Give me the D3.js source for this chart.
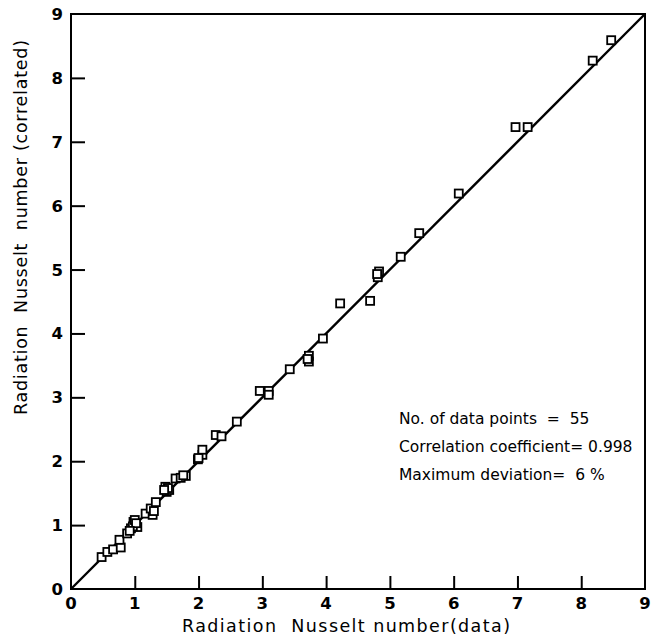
<!DOCTYPE html>
<html lang="en">
<head>
<meta charset="UTF-8" />
<title>Radiation Nusselt number</title>
<script src="https://d3js.org/d3.v7.min.js"></script>
<style>
  body { margin: 0; background: #fff; }
  svg { display: block; }
  text { fill: #000; font-family: 'DejaVu Sans', sans-serif; white-space: pre; }
  .tick-label { font-size: 16.5px; font-weight: bold; }
  .label { font-size: 17.5px; }
  .note { font-size: 15.5px; }
</style>
</head>
<body>
<svg width="658" height="641"></svg>
<script>
// data: Nu (data) vs Nu (correlated)
var nuData = [0.48,0.57,0.66,0.78,0.76,0.88,0.94,0.98,1.01,1.04,0.97,1.17,1.28,1.25,1.33,
  1.48,1.50,1.54,1.64,1.72,1.80,1.76,1.99,2.06,2.06,2.27,2.36,2.60,2.96,3.10,3.10,3.43,
  3.73,3.73,3.71,3.95,4.22,4.69,4.81,4.83,4.80,5.17,5.46,6.08,6.97,7.16,8.18,8.47,
  1.00,1.52,1.02,0.92,1.30,1.46,2.00];
var nuCorr = [0.50,0.58,0.62,0.65,0.77,0.87,0.95,1.05,1.00,0.97,0.98,1.18,1.16,1.26,1.36,
  1.60,1.52,1.55,1.73,1.74,1.77,1.78,2.03,2.10,2.18,2.41,2.39,2.62,3.10,3.10,3.04,3.44,
  3.65,3.56,3.60,3.92,4.47,4.51,4.88,4.97,4.93,5.20,5.57,6.19,7.23,7.23,8.27,8.59,
  1.08,1.58,1.03,0.91,1.22,1.55,2.05];
var xTicks = [0,1,2,3,4,5,6,7,8,9];
var yTicks = [0,1,2,3,4,5,6,7,8,9];
var notes = ['No. of data points  =  55', 'Correlation coefficient= 0.998', 'Maximum deviation=  6 %'];

const svg = d3.select('svg');
const plotLeft = 71, plotRight = 645, plotTop = 14, plotBottom = 589;

const x = d3.scaleLinear().domain([0, 9]).range([plotLeft, plotRight]);
const y = d3.scaleLinear().domain([0, 9]).range([plotBottom, plotTop]);

// frame
svg.append('rect')
  .attr('x', plotLeft).attr('y', plotTop)
  .attr('width', plotRight - plotLeft).attr('height', plotBottom - plotTop)
  .attr('fill', 'none').attr('stroke', '#000').attr('stroke-width', 2);

// inward ticks, bottom and left
const xAxis = svg.append('g')
  .attr('transform', `translate(0, ${plotBottom})`)
  .call(d3.axisTop(x).tickValues(xTicks.slice(1, -1)).tickSize(13).tickFormat(''));
const yAxis = svg.append('g')
  .attr('transform', `translate(${plotLeft}, 0)`)
  .call(d3.axisRight(y).tickValues(yTicks.slice(1, -1)).tickSize(14).tickFormat(''));
[xAxis, yAxis].forEach(function (a) {
  a.select('.domain').remove();
  a.selectAll('line').attr('stroke', '#000').attr('stroke-width', 2);
});

// tick labels
svg.selectAll('.xt').data(xTicks).enter().append('text')
  .attr('class', 'tick-label')
  .attr('x', d => x(d)).attr('y', plotBottom + 20)
  .attr('text-anchor', 'middle')
  .text(d => d);
svg.selectAll('.yt').data(yTicks).enter().append('text')
  .attr('class', 'tick-label')
  .attr('x', plotLeft - 8).attr('y', d => y(d) + 6)
  .attr('text-anchor', 'end')
  .text(d => d);

// parity line
svg.append('line')
  .attr('x1', x(0)).attr('y1', y(0))
  .attr('x2', x(9)).attr('y2', y(9))
  .attr('stroke', '#000').attr('stroke-width', 2.4);

// square markers
const s = 8;
svg.selectAll('.pt').data(nuData).enter().append('rect')
  .attr('x', (d, i) => x(d) - s / 2)
  .attr('y', (d, i) => y(nuCorr[i]) - s / 2)
  .attr('width', s).attr('height', s)
  .attr('fill', '#fff').attr('stroke', '#000').attr('stroke-width', 1.8);

// axis titles (stretched to the wide lettering of the original)
svg.append('text')
  .attr('class', 'label')
  .attr('x', 182).attr('y', 632)
  .attr('textLength', 328).attr('lengthAdjust', 'spacing')
  .text('Radiation  Nusselt number(data)');
svg.append('text')
  .attr('class', 'label')
  .attr('transform', 'translate(27, 415) rotate(-90)')
  .attr('textLength', 375).attr('lengthAdjust', 'spacing')
  .text('Radiation  Nusselt  number (correlated)');

// annotation
svg.selectAll('.note').data(notes).enter().append('text')
  .attr('class', 'note')
  .attr('x', 399).attr('y', (d, i) => 424 + i * 28)
  .text(d => d);
</script>
</body>
</html>
